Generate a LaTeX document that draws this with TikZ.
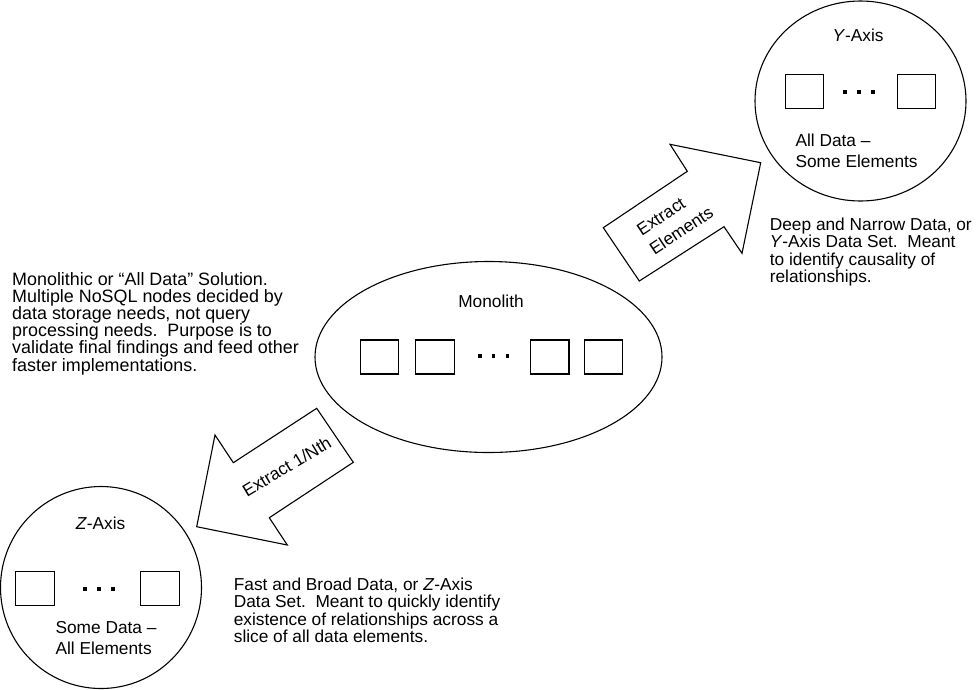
\documentclass[tikz,border=0pt]{standalone}
\usepackage{fontspec}
\setmainfont{Liberation Sans}
\usetikzlibrary{shapes.geometric}
\begin{document}
\begin{tikzpicture}[x=1pt,y=-1pt, line width=1.1pt, line join=miter,
  txt/.style={font=\fontsize{17.3}{17.2}\selectfont, inner sep=0pt},
  ltxt/.style={font=\fontsize{17.9}{17.2}\selectfont, inner sep=0pt},
  ctxt/.style={font=\fontsize{17.3}{21.5}\selectfont, inner sep=0pt},
  box/.style={draw, minimum width=38.5pt, minimum height=34pt, inner sep=0pt},
  dotmark/.style={fill, minimum size=3.6pt, inner sep=0pt},
  ring/.style={draw, ellipse, inner sep=0pt}]
\useasboundingbox (0,0) rectangle (979,689);

% containers
\node[ring, minimum width=347pt, minimum height=191pt] (mono) at (488.5,357) {};
\node[ring, minimum width=211pt, minimum height=200pt] (ycirc) at (860.5,101) {};
\node[ring, minimum width=201pt, minimum height=202pt] (zcirc) at (101,587.5) {};

% monolith contents
\node[txt, anchor=base] (monolbl) at (491,307.7) {Monolith};
\node[box] (m1) at (379.3,357) {};
\node[box] (m2) at (435,357) {};
\node[box] (m3) at (549.7,357) {};
\node[box] (m4) at (603.5,357) {};
\node[dotmark] (md1) at (480,355.7) {};
\node[dotmark] (md2) at (493.3,355.7) {};
\node[dotmark] (md3) at (507.3,355.7) {};

% Y-axis contents
\node[txt, anchor=base] (ylbl) at (858,41.7) {\textit{Y}-Axis};
\node[box] (y1) at (804.3,91.3) {};
\node[box] (y2) at (916.5,91.3) {};
\node[dotmark] (yd1) at (845,91.7) {};
\node[dotmark] (yd2) at (859,91.7) {};
\node[dotmark] (yd3) at (872.7,91.7) {};
\node[ctxt, anchor=base west, align=left] (ysub) at (795,167.7) {All Data --\\Some Elements};

% Z-axis contents
\node[txt, anchor=base] (zlbl) at (100.5,529) {\textit{Z}-Axis};
\node[box] (z1) at (35,588.7) {};
\node[box] (z2) at (160,588.7) {};
\node[dotmark] (zd1) at (85,589) {};
\node[dotmark] (zd2) at (99,589) {};
\node[dotmark] (zd3) at (112.7,589) {};
\node[ctxt, anchor=base west, align=left] (zsub) at (55,654.5) {Some Data --\\All Elements};

% block arrows
\draw (603.3,227.7) -- (687.3,171.3) -- (670,144.3) -- (760.7,162.7) -- (742,253.3) -- (724,226.7) -- (639.3,281) -- cycle;
\draw (316.7,408.3) -- (353.3,462.3) -- (269.3,517.7) -- (287.3,545) -- (196.7,526.7) -- (215,435) -- (233.3,462.7) -- cycle;
\node[font=\fontsize{17.3}{23}\selectfont, inner sep=0pt, rotate=33.5, align=left] (ylabel) at (675,221) {Extract\\Elements};
\node[txt, rotate=31] (zlabel) at (286.7,466.7) {Extract 1/Nth};

% descriptions
\node[ltxt, anchor=base west, align=left] (monodesc) at (11.7,371) {Monolithic or “All Data” Solution.\\Multiple NoSQL nodes decided by\\data storage needs, not query\\processing needs.\ \ Purpose is to\\validate final findings and feed other\\faster implementations.};
\node[txt, anchor=base west, align=left] (ydesc) at (769.3,282.3) {Deep and Narrow Data, or\\\textit{Y}-Axis Data Set.\ \ Meant\\to identify causality of\\relationships.};
\node[txt, anchor=base west, align=left] (zdesc) at (233.3,642.3) {Fast and Broad Data, or \textit{Z}-Axis\\Data Set.\ \ Meant to quickly identify\\existence of relationships across a\\slice of all data elements.};
\end{tikzpicture}
\end{document}
